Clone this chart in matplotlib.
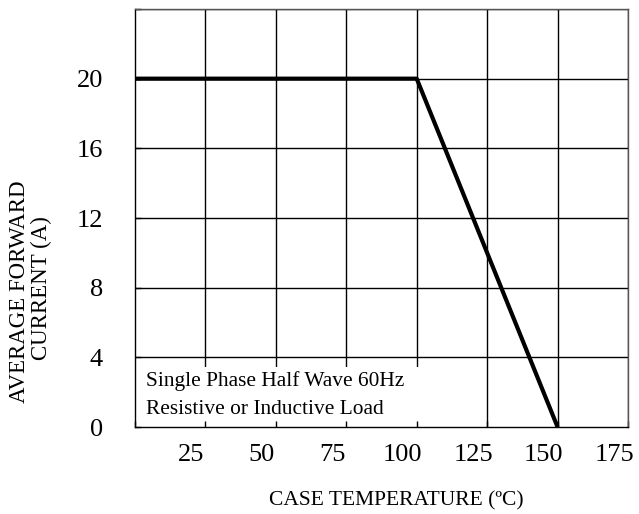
import numpy as np
import matplotlib.pyplot as plt
import matplotlib.transforms as mtransforms
from matplotlib.patches import Rectangle

# derating curve
case_temp = [0, 100, 150]
avg_current = [20, 20, 0]

x_ticks = [25, 50, 75, 100, 125, 150, 175]
y_ticks = [0, 4, 8, 12, 16, 20]
note_lines = ["Single Phase Half Wave 60Hz", "Resistive or Inductive Load"]

plt.rcParams['font.family'] = ['Liberation Serif', 'DejaVu Serif']

fig = plt.figure(figsize=(6.39, 5.14), dpi=100)
ax = fig.add_axes([135 / 639, 1 - 427 / 514, 493 / 639, 418 / 514])

ax.set_xlim(0, 175)
ax.set_ylim(0, 24)
ax.set_xticks(np.arange(0, 176, 25))
ax.set_yticks(np.arange(0, 25, 4))
ax.set_xticklabels([""] + [str(t) for t in x_ticks])
ax.set_yticklabels([str(t) for t in y_ticks] + [""])

# grid drawn by hand so the note box can cover it but not the tick marks
for t in x_ticks:
    ax.axvline(t, color='black', linewidth=1.0, zorder=1)
for t in y_ticks[1:] + [24]:
    ax.axhline(t, color='black', linewidth=1.0, zorder=1)

ax.tick_params(axis='both', direction='in', length=4, width=1, labelsize=19, color='black')
ax.tick_params(axis='x', pad=12)
ax.tick_params(axis='y', pad=23)
for spine in ax.spines.values():
    spine.set_linewidth(1.0)
    spine.set_color('black')
ax.spines['top'].set_color('#555555')
ax.spines['right'].set_color('#555555')

# x tick labels sit a little left of their grid lines in the original
shift = mtransforms.ScaledTranslation(-14 / 100, 0, fig.dpi_scale_trans)
for lbl in ax.get_xticklabels():
    lbl.set_transform(lbl.get_transform() + shift)

# white note box hides the lower grid row
ax.add_patch(Rectangle((0, 0), 114, 3.45, facecolor='white', edgecolor='none', zorder=1.5))
ax.text(4, 2.65, note_lines[0], fontsize=15.4, va='center', ha='left', zorder=3)
ax.text(4, 1.0, note_lines[1], fontsize=15.4, va='center', ha='left', zorder=3)

ax.plot(case_temp, avg_current, color='black', linewidth=3, zorder=4, solid_capstyle='butt')

fig.text(20 / 639, 1 - 292 / 514, "AVERAGE FORWARD", rotation=90, fontsize=16.5,
         ha='center', va='center')
fig.text(41 / 639, 1 - 288 / 514, "CURRENT (A)", rotation=90, fontsize=16.5,
         ha='center', va='center')
fig.text(396 / 639, 1 - 501 / 514, "CASE TEMPERATURE (ºC)", fontsize=15.5,
         ha='center', va='center')

fig.savefig("out.png", dpi=100)
